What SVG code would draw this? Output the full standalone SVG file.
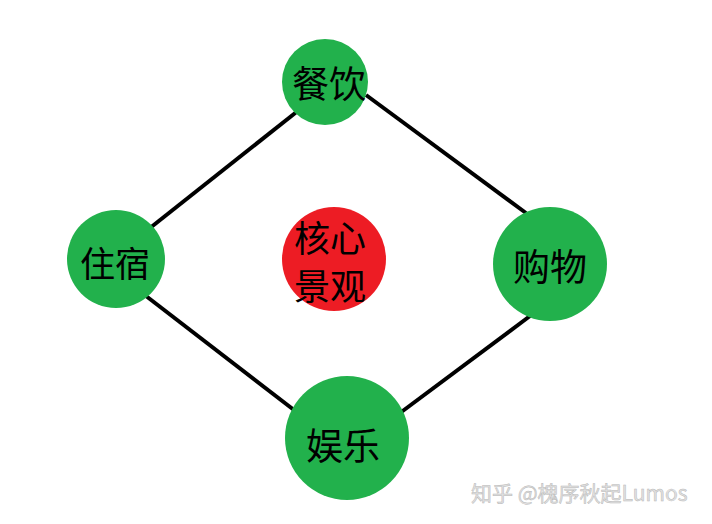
<svg xmlns="http://www.w3.org/2000/svg" width="712" height="524" viewBox="0 0 712 524">
<style>
.g{fill:#22b14c}
.r{fill:#ed1c24}
.t{font-family:"Noto Sans CJK SC","Noto Sans",sans-serif;font-size:37px;fill:#000;text-anchor:middle;dominant-baseline:central}
.e{stroke:#000;stroke-width:4;fill:none}
.w{font-family:"Noto Sans CJK SC","Noto Sans",sans-serif;font-size:21px;fill:#e2e2e2;stroke:#b8b8b8;stroke-width:0.5}
</style>
<rect width="712" height="524" fill="#fff"/>
<g id="connectors">
<line class="e" x1="299" y1="110" x2="150" y2="228"/>
<line class="e" x1="366" y1="95" x2="526" y2="213"/>
<line class="e" x1="146" y1="296" x2="294" y2="410"/>
<line class="e" x1="530" y1="316" x2="400" y2="413"/>
</g>
<g id="canyin"><circle class="g" cx="325" cy="82" r="43"/><text class="t" x="329" y="82">餐饮</text></g>
<g id="zhusu"><circle class="g" cx="116" cy="259" r="49"/><text class="t" x="115" y="261" style="font-size:35px">住宿</text></g>
<g id="gouwu"><circle class="g" cx="550" cy="264" r="57"/><text class="t" x="550" y="265">购物</text></g>
<g id="hexin"><circle class="r" cx="334" cy="259" r="52"/><text class="t" x="330" y="236" style="font-size:36px">核心</text><text class="t" x="330" y="284" style="font-size:36px">景观</text></g>
<g id="yule"><circle class="g" cx="347" cy="438" r="62"/><text class="t" x="343" y="444">娱乐</text></g>
<text class="w" x="471" y="501">知乎 @槐序秋起Lumos</text>
</svg>
